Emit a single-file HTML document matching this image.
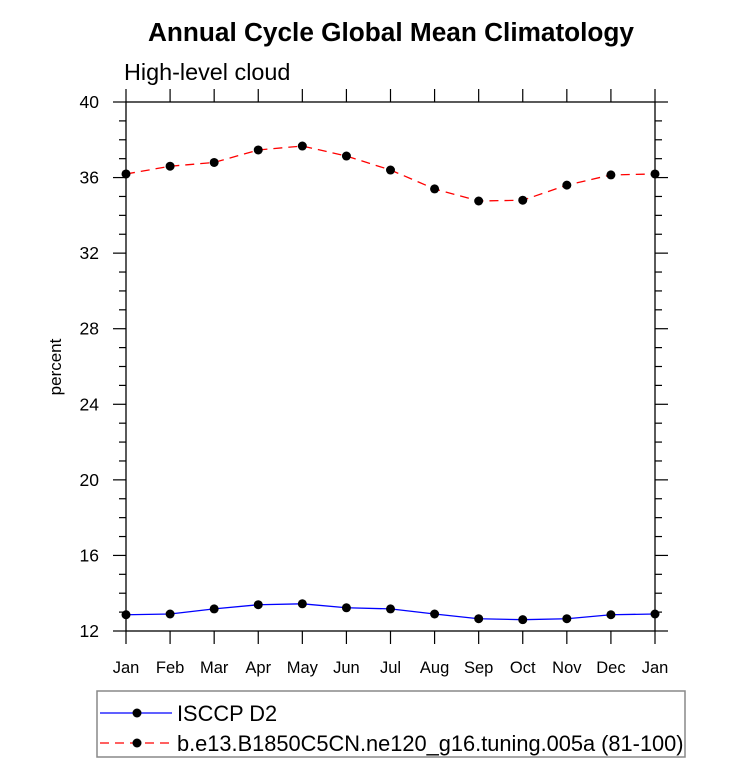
<!DOCTYPE html>
<html><head><meta charset="utf-8"><style>
body{margin:0;background:#fff;width:733px;height:769px;overflow:hidden}
svg{font-family:"Liberation Sans",sans-serif}
</style></head><body>
<svg id="chart" width="733" height="769" xmlns="http://www.w3.org/2000/svg">
<text x="391" y="41" text-anchor="middle" font-size="26.2" font-weight="bold">Annual Cycle Global Mean Climatology</text>
<text x="124" y="80" font-size="23.4">High-level cloud</text>
<text transform="translate(61,367) rotate(-90)" text-anchor="middle" font-size="17">percent</text>
<g id="axes"></g>
<g id="series"></g>
<g>
<rect x="97" y="691" width="588" height="66" fill="none" stroke="#888" stroke-width="1.5"/>
<line x1="100" y1="713" x2="172" y2="713" stroke="#00f" stroke-width="1.3"/>
<circle cx="137" cy="713" r="4.5" fill="#000"/>
<text x="177" y="721" font-size="21.8">ISCCP D2</text>
<line x1="100" y1="743" x2="172" y2="743" stroke="#f00" stroke-width="1.3" stroke-dasharray="9,6"/>
<circle cx="137" cy="743" r="4.5" fill="#000"/>
<text x="177" y="751" font-size="21.8">b.e13.B1850C5CN.ne120_g16.tuning.005a (81-100)</text>
</g>
</svg>
<script>
const months=["Jan","Feb","Mar","Apr","May","Jun","Jul","Aug","Sep","Oct","Nov","Dec","Jan"];
const isccp=[12.86,12.9,13.17,13.39,13.44,13.23,13.17,12.9,12.65,12.6,12.65,12.86,12.9];
const model=[36.19,36.6,36.8,37.46,37.67,37.14,36.4,35.4,34.76,34.8,35.6,36.14,36.19];
const yTicks=[12,16,20,24,28,32,36,40];
const X0=126,X1=655,Y0=631,Y1=102,YMIN=12,YMAX=40;
const xs=i=>X0+(X1-X0)*i/(months.length-1);
const ys=v=>Y0-(Y0-Y1)*(v-YMIN)/(YMAX-YMIN);
const NS="http://www.w3.org/2000/svg";
function mk(tag,attrs,parent){const e=document.createElementNS(NS,tag);for(const k in attrs)e.setAttribute(k,attrs[k]);parent.appendChild(e);return e;}
const ax=document.getElementById('axes');
const frame=mk('rect',{x:X0,y:Y1,width:X1-X0,height:Y0-Y1,fill:'none',stroke:'#000','stroke-width':1.3},ax);


months.forEach((m,i)=>{
  const x=xs(i);
  mk('line',{x1:x,y1:Y0,x2:x,y2:Y0+13,stroke:'#000','stroke-width':1.2},ax);
  mk('line',{x1:x,y1:Y1,x2:x,y2:Y1-13,stroke:'#000','stroke-width':1.2},ax);
  const t=mk('text',{x:x,y:Y0+42,'text-anchor':'middle','font-size':16.5},ax);
  t.textContent=m;
  
  
});
for(let v=YMIN;v<=YMAX;v++){
  const y=ys(v);const major=yTicks.includes(v);const L=major?13:7;
  mk('line',{x1:X0-L,y1:y,x2:X0,y2:y,stroke:'#000','stroke-width':1.2},ax);
  mk('line',{x1:X1,y1:y,x2:X1+L,y2:y,stroke:'#000','stroke-width':1.2},ax);
}
yTicks.forEach(v=>{
  const t=mk('text',{x:X0-27,y:ys(v)+6,'text-anchor':'end','font-size':17.5},ax);
  t.textContent=v;
  
  
});
const sg=document.getElementById('series');
function series(vals,color,dash,name){
  const g=mk('g',{},sg);
  
  
  const p=mk('polyline',{points:vals.map((v,i)=>xs(i)+','+ys(v)).join(' '),fill:'none',stroke:color,'stroke-width':1.3},g);
  if(dash)p.setAttribute('stroke-dasharray',dash);
  vals.forEach((v,i)=>{
    const c=mk('circle',{cx:xs(i),cy:ys(v),r:4.5,fill:'#000'},g);
    
    
  });
}
series(isccp,'#00f',null,'isccp-series');
series(model,'#f00','9,6','model-series');
</script>
</body></html>
